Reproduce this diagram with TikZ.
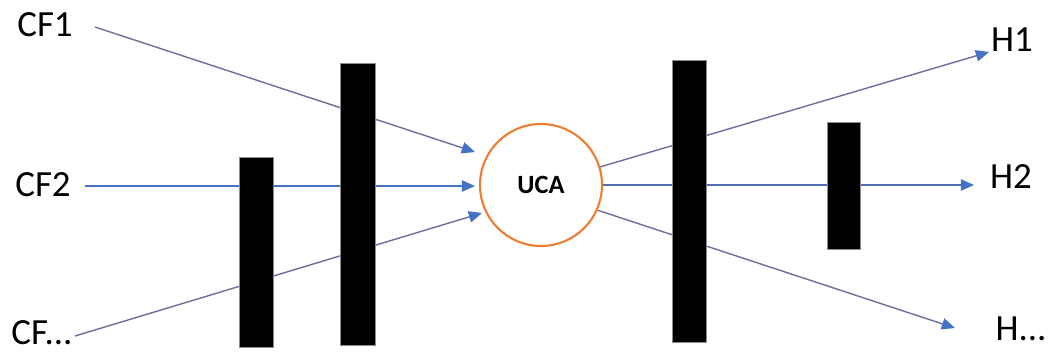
\documentclass[tikz,border=0pt]{standalone}
\usepackage{fontspec}
\setmainfont{Carlito}
\usetikzlibrary{arrows.meta}
\definecolor{ucaorange}{RGB}{237,125,49}
\definecolor{tipblue}{RGB}{68,114,196}
\definecolor{slate}{RGB}{108,110,160}
\definecolor{flowblue}{RGB}{80,110,180}

\begin{document}
\begin{tikzpicture}[x=0.02cm, y=-0.02cm,
    lbl/.style={font=\fontsize{21}{24}\selectfont, inner sep=0pt},
    conn/.style={line width=0.8pt, -{Triangle[length=7.5pt, width=6.5pt, color=tipblue]}},
    bar/.style={fill=black, draw=black!45, line width=0.3pt}]
    \useasboundingbox (0,0) rectangle (1049,352);

    % Inputs
    \node[lbl] (cf1) at (45,25) {CF1};
    \node[lbl] (cf2) at (43,185) {CF2};
    \node[lbl] (cfn) at (42,333) {CF...};

    % Unit
    \node[circle, draw=ucaorange, line width=1.2pt, fill=white, minimum size=2.44cm,
          inner sep=0pt, font=\fontsize{15}{18}\selectfont\bfseries] (uca) at (541,185) {UCA};

    % Outputs
    \node[lbl] (h1) at (1012,40) {H1};
    \node[lbl] (h2) at (1011,177) {H2};
    \node[lbl] (hn) at (1021,329) {H...};

    % Connector ends
    \foreach \n/\x/\y in {s1/95/27, t1/475/152, s2/85/186, t2/475/186, s3/75/336, t3/482/213,
                          u1/989/52, u2/974/185, u3/955/328}
        \coordinate (\n) at (\x,\y);

    % Into the unit
    \draw[conn, slate] (s1) -- (t1);
    \draw[conn, tipblue] (s2) -- (t2);
    \draw[conn, slate] (s3) -- (t3);

    % Out of the unit
    \draw[conn, slate] (uca.17) -- (u1);
    \draw[conn, flowblue] (uca.east) -- (u2);
    \draw[conn, slate] (uca.-24) -- (u3);

    % Bars
    \foreach \x/\y/\w/\h in {239/157/34/190, 340/63/35/282,
                             672/60/34/282, 827/122/33/127}
        \draw[bar] (\x,\y) rectangle ++(\w,\h);
\end{tikzpicture}
\end{document}
